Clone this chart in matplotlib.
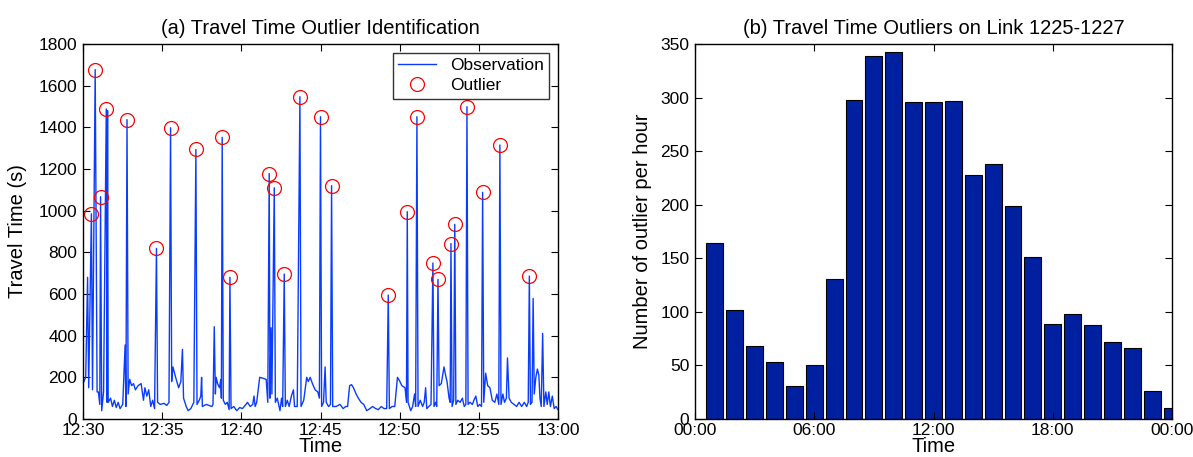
import matplotlib
matplotlib.use("Agg")
import matplotlib.pyplot as plt
import numpy as np

plt.rcParams['font.family'] = ['Liberation Sans', 'DejaVu Sans']

# ---------------- data: (a) observations, minutes after 12:30 ----------------
obs_minutes = [
    0.00, 0.17, 0.29, 0.36, 0.53, 0.60, 0.77, 0.89, 0.97, 1.06, 1.11, 1.18, 1.30, 1.47, 1.52, 1.55, 1.59,
    1.74, 1.86, 1.98, 2.10, 2.22, 2.34, 2.51, 2.66, 2.71, 2.78, 2.85, 2.95, 3.07, 3.19, 3.31, 3.48, 3.67,
    3.82, 3.91, 4.03, 4.15, 4.28, 4.40, 4.52, 4.64, 4.71, 4.88, 5.12, 5.29, 5.43, 5.53, 5.60, 5.68, 5.85,
    6.04, 6.18, 6.28, 6.35, 6.52, 6.64, 6.81, 7.00, 7.13, 7.20, 7.34, 7.44, 7.49, 7.54, 7.78, 7.97, 8.14,
    8.21, 8.29, 8.36, 8.41, 8.50, 8.62, 8.70, 8.74, 8.79, 8.86, 8.99, 9.11, 9.23, 9.28, 9.35, 9.52, 9.71,
    9.90, 10.07, 10.24, 10.39, 10.56, 10.72, 10.80, 10.87, 10.97, 11.16, 11.40, 11.57, 11.67, 11.76, 11.81,
    11.88, 11.93, 12.08, 12.15, 12.27, 12.44, 12.54, 12.61, 12.71, 12.78, 12.90, 13.02, 13.16, 13.29, 13.36,
    13.53, 13.70, 13.77, 13.94, 14.06, 14.13, 14.23, 14.35, 14.49, 14.66, 14.83, 14.93, 15.00, 15.07, 15.19,
    15.29, 15.36, 15.51, 15.63, 15.70, 15.77, 15.99, 16.23, 16.43, 16.59, 16.71, 16.84, 16.96, 17.08, 17.25,
    17.39, 17.56, 17.73, 17.92, 18.12, 18.29, 18.48, 18.65, 18.84, 19.01, 19.18, 19.28, 19.35, 19.52, 19.69,
    19.86, 19.98, 20.14, 20.34, 20.43, 20.48, 20.53, 20.70, 20.82, 20.94, 21.01, 21.09, 21.16, 21.30, 21.45,
    21.55, 21.64, 21.71, 21.84, 21.98, 22.10, 22.17, 22.27, 22.34, 22.42, 22.49, 22.63, 22.80, 22.90, 22.99,
    23.12, 23.19, 23.24, 23.31, 23.41, 23.48, 23.55, 23.67, 23.82, 23.96, 24.08, 24.18, 24.25, 24.32, 24.44,
    24.59, 24.69, 24.81, 24.93, 25.05, 25.17, 25.24, 25.31, 25.43, 25.56, 25.70, 25.85, 26.01, 26.14, 26.26,
    26.33, 26.40, 26.52, 26.62, 26.74, 26.81, 26.91, 27.05, 27.22, 27.39, 27.54, 27.71, 27.87, 28.02, 28.12,
    28.19, 28.26, 28.36, 28.43, 28.50, 28.60, 28.70, 28.79, 28.86, 28.94, 29.03, 29.11, 29.23, 29.32, 29.42,
    29.52, 29.64, 29.76, 29.88, 30.00,
]
obs_values = [
    170, 200, 680, 150, 985, 140, 1677, 130, 130, 70, 1067, 40, 130, 1488, 80, 1480, 80,
    100, 60, 90, 55, 80, 50, 70, 355, 60, 1437, 120, 190, 160, 170, 140, 160, 170,
    90, 150, 110, 140, 60, 90, 50, 819, 80, 70, 75, 65, 80, 1398, 180, 250, 200,
    150, 180, 334, 100, 60, 40, 50, 80, 1294, 70, 90, 110, 200, 60, 70, 65, 60,
    70, 443, 120, 200, 170, 150, 190, 100, 1352, 90, 70, 80, 45, 680, 50, 60, 40,
    55, 50, 65, 80, 60, 70, 110, 60, 80, 200, 195, 190, 80, 1178, 100,
    438, 120, 1110, 80, 100, 40, 100, 60, 696, 60, 90, 60, 110, 140, 60,
    60, 1547, 60, 90, 160, 200, 180, 200, 170, 140, 130, 100, 1451, 60, 80,
    250, 80, 60, 70, 1120, 60, 60, 70, 50, 60, 60, 160, 165, 150, 120,
    100, 80, 70, 40, 50, 60, 50, 45, 60, 50, 50, 595, 50, 60, 60,
    200, 185, 160, 150, 80, 995, 80, 40, 60, 120, 60, 1451, 60, 90, 60,
    80, 150, 50, 60, 70, 749, 60, 80, 60, 670, 160, 170, 250, 210, 180,
    100, 80, 842, 60, 90, 934, 70, 90, 80, 100, 60, 70, 1499, 70, 80,
    70, 90, 110, 60, 70, 60, 1088, 80, 220, 160, 150, 90, 80, 120, 70,
    1315, 70, 120, 80, 100, 293, 100, 80, 70, 60, 80, 60, 80, 60, 80,
    686, 70, 80, 579, 120, 200, 240, 210, 100, 60, 411, 60, 130, 70, 130,
    60, 110, 50, 60, 45,
]

outlier_minutes = [0.53, 0.77, 1.11, 1.47, 2.78, 4.64, 5.53, 7.13, 8.79, 9.28, 11.76, 12.08, 12.71, 13.70,
                   15.00, 15.70, 19.28, 20.48, 21.09, 22.10, 22.42, 23.24, 23.48, 24.25, 25.24, 26.33, 28.19]
outlier_values = [985, 1677, 1067, 1488, 1437, 819, 1398, 1294, 1352, 680, 1178, 1110, 696, 1547,
                  1451, 1120, 595, 995, 1451, 749, 670, 842, 934, 1499, 1088, 1315, 686]

time_ticks_min = [0, 5, 10, 15, 20, 25, 30]
time_tick_labels = ['12:30', '12:35', '12:40', '12:45', '12:50', '12:55', '13:00']

# ---------------- data: (b) outliers per hour ----------------
hours = list(range(1, 25))
outliers_per_hour = [164, 102, 68, 53, 31, 50, 131, 298, 339, 343, 296, 296,
                     297, 228, 238, 199, 151, 89, 98, 88, 72, 66, 26, 10]
hour_ticks = [0, 6, 12, 18, 24]
hour_tick_labels = ['00:00', '06:00', '12:00', '18:00', '00:00']

# ---------------- figure ----------------
W, H = 1193, 457
fig = plt.figure(figsize=(W / 100, H / 100), dpi=100)
ax1 = fig.add_axes([83 / W, (H - 419) / H, 475 / W, 375 / H])
ax2 = fig.add_axes([695 / W, (H - 419) / H, 477 / W, 375 / H])

fs_tick = 12.5
fs_label = 14.5
fs_title = 14.5

# (a)
ax1.plot(obs_minutes, obs_values, color='#0A3CFF', lw=1.0, label='Observation')
ax1.plot(outlier_minutes, outlier_values, 'o', ms=10, mfc='none', mec='#FF0000', mew=0.9,
         label='Outlier')
ax1.set_xlim(0, 30)
ax1.set_ylim(0, 1800)
ax1.set_xticks(time_ticks_min)
ax1.set_xticklabels(time_tick_labels)
ax1.set_yticks(np.arange(0, 1801, 200))
ax1.set_title('(a) Travel Time Outlier Identification', fontsize=fs_title, pad=7)
ax1.set_xlabel('Time', fontsize=fs_label, labelpad=-1)
ax1.set_ylabel('Travel Time (s)', fontsize=fs_label)
ax1.yaxis.set_label_coords(-0.117, 0.5)
leg = ax1.legend(loc='upper right', fontsize=fs_tick, frameon=True, fancybox=False,
                 edgecolor='black', borderaxespad=0.5, handlelength=2.2,
                 borderpad=0.3, labelspacing=0.3)
leg.get_frame().set_linewidth(1.0)

# (b)
ax2.bar(hours, outliers_per_hour, width=0.85, color='#0020A0', edgecolor='black', lw=0.8)
ax2.set_xlim(0, 24)
ax2.set_ylim(0, 350)
ax2.set_xticks(hour_ticks)
ax2.set_xticklabels(hour_tick_labels)
ax2.set_yticks(np.arange(0, 351, 50))
ax2.set_title('(b) Travel Time Outliers on Link 1225-1227', fontsize=fs_title, pad=7)
ax2.set_xlabel('Time', fontsize=fs_label, labelpad=-1)
ax2.set_ylabel('Number of outlier per hour', fontsize=fs_label)
ax2.yaxis.set_label_coords(-0.09, 0.5)

for ax in (ax1, ax2):
    ax.tick_params(direction='in', top=True, right=True, length=5, width=0.8,
                   labelsize=fs_tick)
    ax.tick_params(axis='x', pad=3)
    ax.tick_params(axis='y', pad=4)
    for s in ax.spines.values():
        s.set_linewidth(1.0)

fig.savefig('out.png', dpi=100)
